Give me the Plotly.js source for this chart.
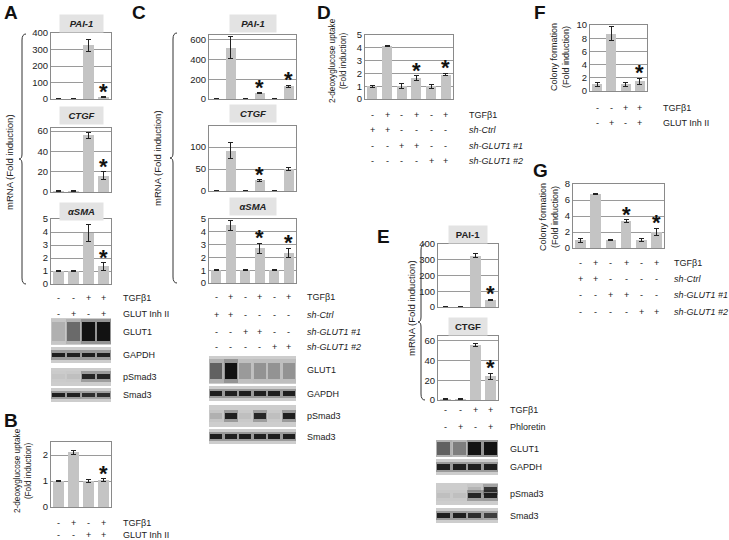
<!DOCTYPE html>
<html>
<head>
<meta charset="utf-8">
<script src="https://cdn.plot.ly/plotly-3.0.1.min.js"></script>
<style>
	html, body { margin: 0; padding: 0; background: #fff; }
	#plot { width: 729px; height: 540px; }
</style>
</head>
<body>
<div id="plot"></div>
<script>
const W = 729;
const H = 540;
const FONT = "Liberation Sans, Arial, sans-serif";

// ---- data ----
const lanes4 = [1, 2, 3, 4];
const lanes6 = [1, 2, 3, 4, 5, 6];

const aPai1 = [1, 1, 325, 12];
const aPai1Err = [0.5, 0.5, 35, 3];
const aCtgf = [1, 1, 56, 16];
const aCtgfErr = [0.3, 0.3, 3, 4];
const aSma = [1, 1, 3.9, 1.35];
const aSmaErr = [0.02, 0.02, 0.65, 0.3];

const bUptake = [1, 2.1, 1, 1.03];
const bUptakeErr = [0.02, 0.08, 0.04, 0.06];

const cPai1 = [1, 520, 1, 60, 1, 130];
const cPai1Err = [0, 110, 0, 5, 0, 10];
const cCtgf = [1, 92, 1, 24, 1, 50];
const cCtgfErr = [0, 18, 0, 2, 0, 4];
const cSma = [1, 4.5, 1, 2.7, 1, 2.35];
const cSmaErr = [0.02, 0.4, 0.02, 0.4, 0.02, 0.35];

const dUptake = [1, 4.15, 1, 1.65, 1, 1.9];
const dUptakeErr = [0.08, 0.05, 0.18, 0.18, 0.15, 0.1];

const ePai1 = [1, 1, 325, 45];
const ePai1Err = [0.5, 0.5, 12, 4];
const eCtgf = [1, 1, 56, 24];
const eCtgfErr = [0.3, 0.3, 1.5, 3];

const fColony = [1, 8.7, 1, 1.45];
const fColonyErr = [0.3, 1.0, 0.25, 0.5];

const gColony = [1, 6.75, 1, 3.4, 1, 2];
const gColonyErr = [0.25, 0.08, 0.06, 0.15, 0.15, 0.45];

// treatment rows
const rowTgfA = ["-", "-", "+", "+"];
const rowInhA = ["-", "+", "-", "+"];
const rowTgfB = ["-", "+", "-", "+"];
const rowInhB = ["-", "-", "+", "+"];
const rowTgf6 = ["-", "+", "-", "+", "-", "+"];
const rowCtrl6 = ["+", "+", "-", "-", "-", "-"];
const rowSh1 = ["-", "-", "+", "+", "-", "-"];
const rowSh2 = ["-", "-", "-", "-", "+", "+"];
const rowTgfE = ["-", "-", "+", "+"];
const rowPhlE = ["-", "+", "-", "+"];
const rowTgfF = ["-", "-", "+", "+"];
const rowInhF = ["-", "+", "-", "+"];

// western blot band intensities (0..1) per lane
const aGlut1 = [0.12, 0.45, 1, 1];
const aGapdh = [0.9, 0.9, 0.9, 0.9];
const aPsmad = [0.03, 0.05, 0.85, 0.85];
const aSmad = [0.9, 0.9, 0.8, 0.8];
const cGlut1 = [0.5, 1, 0.22, 0.25, 0.25, 0.25];
const cGapdh = [0.9, 0.9, 0.9, 0.9, 0.9, 0.9];
const cPsmad = [0.12, 0.9, 0.05, 0.85, 0.05, 0.9];
const cSmad = [0.9, 0.9, 0.9, 0.9, 0.9, 0.9];
const eGlut1 = [0.5, 0.35, 1, 1];
const eGapdh = [0.9, 0.9, 0.9, 0.9];
const ePsmad = [0.05, 0.05, 0.85, 0.9];
const ePsmadUpper = [0, 0, 0.1, 0.75];
const eSmad = [0.9, 0.9, 0.8, 0.7];

// ---- helpers ----
const px = (x) => x / W;
const py = (y) => 1 - y / H;

let traces = [];
let layout = {
	width: W,
	height: H,
	margin: { l: 0, r: 0, t: 0, b: 0 },
	paper_bgcolor: "#ffffff",
	plot_bgcolor: "rgba(0,0,0,0)",
	showlegend: false,
	font: { family: FONT, size: 9, color: "#222" },
	annotations: [],
	shapes: [],
	bargap: 0,
	barmode: "overlay",
};
let axisCount = 0;

function newAxes() {
	axisCount++;
	const n = axisCount === 1 ? "" : axisCount;
	return { n: n, xRef: "x" + n, yRef: "y" + n };
}

// paper-referenced text, centred on (x, y) pixels unless told otherwise
function text(x, y, str, opts = {}) {
	layout.annotations.push(
		Object.assign(
			{
				xref: "paper",
				yref: "paper",
				x: px(x),
				y: py(y),
				xanchor: "center",
				yanchor: "middle",
				text: str,
				showarrow: false,
				font: { family: FONT, size: 9, color: "#222" },
			},
			opts
		)
	);
}

function addBarPanel(p) {
	const ax = newAxes();
	const lanes = p.values.length === 6 ? lanes6 : lanes4;
	layout["xaxis" + ax.n] = {
		domain: [px(p.x0), px(p.x1)],
		anchor: ax.yRef,
		range: [0.5, lanes.length + 0.5],
		showticklabels: false,
		ticks: "",
		showgrid: false,
		zeroline: false,
		showline: true,
		mirror: true,
		linecolor: "#8a8a8a",
		linewidth: 1,
		fixedrange: true,
	};
	layout["yaxis" + ax.n] = {
		domain: [py(p.y1), py(p.y0)],
		anchor: ax.xRef,
		range: [0, p.max],
		dtick: p.dtick,
		tick0: 0,
		showgrid: true,
		gridcolor: "#9a9a9a",
		gridwidth: 1,
		zeroline: false,
		showline: true,
		mirror: true,
		linecolor: "#8a8a8a",
		ticks: "",
		tickfont: { family: FONT, size: 9.5, color: "#222" },
		fixedrange: true,
	};
	traces.push({
		type: "bar",
		x: lanes,
		y: p.values,
		xaxis: ax.xRef,
		yaxis: ax.yRef,
		width: 0.7,
		marker: { color: "#c4c4c4" },
		error_y: {
			type: "data",
			array: p.errors,
			visible: true,
			color: "#222",
			thickness: 1,
			width: 2.5,
		},
		hoverinfo: "skip",
	});
	(p.stars || []).forEach((i) => {
		layout.annotations.push({
			xref: ax.xRef,
			yref: ax.yRef,
			x: lanes[i],
			y: p.values[i] + p.errors[i],
			text: "<b>*</b>",
			showarrow: false,
			xanchor: "center",
			yanchor: "bottom",
			yshift: -9,
			font: { family: FONT, size: 22, color: "#111" },
		});
	});
	if (p.title) {
		text((p.x0 + p.x1) / 2, p.titleY, p.title, {
			bgcolor: "#e3e3e3",
			borderpad: 0,
			width: p.titleW,
			height: 17,
			font: { family: FONT, size: 9.5, color: "#222" },
		});
	}
	return ax;
}

function addRows(ax, rows, labelX) {
	rows.forEach((r) => {
		r.signs.forEach((s, i) => {
			layout.annotations.push({
				xref: ax.xRef,
				yref: "paper",
				x: i + 1,
				y: py(r.y),
				xanchor: "center",
				yanchor: "middle",
				text: s,
				showarrow: false,
				font: { family: FONT, size: 9, color: "#222" },
			});
		});
		text(labelX, r.y, r.label, { xanchor: "left" });
	});
}

function addBlot(b) {
	const ax = newAxes();
	const lanes = b.bands.length === 6 ? lanes6 : lanes4;
	layout["xaxis" + ax.n] = {
		domain: [px(b.x0), px(b.x1)],
		anchor: ax.yRef,
		range: [0.5, lanes.length + 0.5],
		visible: false,
		fixedrange: true,
	};
	layout["yaxis" + ax.n] = {
		domain: [py(b.y1), py(b.y0)],
		anchor: ax.xRef,
		range: [0, 1],
		visible: false,
		fixedrange: true,
	};
	layout.shapes.push({
		type: "rect",
		xref: ax.xRef + " domain",
		yref: ax.yRef + " domain",
		x0: 0,
		x1: 1,
		y0: 0,
		y1: 1,
		fillcolor: "#cdcdcd",
		line: { width: 0 },
		layer: "below",
	});
	const layers = [{ bands: b.bands, base: b.base, h: b.h }];
	if (b.upper) layers.push({ bands: b.upper, base: b.base + b.h + 0.05, h: b.h * 0.8 });
	layers.forEach((l) => {
		// soft halo, then the dense core of each band
		[
			{ grow: 0.14, w: 1.0, k: 0.3 },
			{ grow: 0, w: 0.86, k: 1 },
		].forEach((s) => {
			traces.push({
				type: "bar",
				x: lanes,
				y: lanes.map(() => l.h + 2 * s.grow),
				base: lanes.map(() => l.base - s.grow),
				xaxis: ax.xRef,
				yaxis: ax.yRef,
				width: s.w,
				marker: {
					color: l.bands.map((a) => `rgba(18,18,18,${a * s.k})`),
					line: { width: 0 },
				},
				hoverinfo: "skip",
			});
		});
	});
	text(b.labelX, (b.y0 + b.y1) / 2, b.label, { xanchor: "left" });
}

function addBrace(x, y0, y1) {
	const m = (y0 + y1) / 2;
	const P = (a, b) => `${px(a)},${py(b)}`;
	const path =
		`M${P(x + 4, y0)} Q${P(x, y0)} ${P(x, y0 + 6)} L${P(x, m - 5)} ` +
		`Q${P(x, m)} ${P(x - 3, m)} Q${P(x, m)} ${P(x, m + 5)} ` +
		`L${P(x, y1 - 6)} Q${P(x, y1)} ${P(x + 4, y1)}`;
	layout.shapes.push({
		type: "path",
		xref: "paper",
		yref: "paper",
		path: path,
		line: { color: "#333", width: 1 },
	});
}

function letter(x, y, s) {
	text(x, y, `<b>${s}</b>`, { font: { family: FONT, size: 19, color: "#111" } });
}

function ylabel(x, y, s, size = 9) {
	text(x, y, s, { textangle: -90, font: { family: FONT, size: size, color: "#222" } });
}

// ---- panel A ----
letter(11, 13, "A");
addBarPanel({ x0: 51, x1: 111, y0: 33, y1: 99, values: aPai1, errors: aPai1Err, max: 400, dtick: 100, stars: [3], title: "<b><i>PAI-1</i></b>", titleY: 23, titleW: 43 });
addBarPanel({ x0: 51, x1: 111, y0: 128, y1: 192, values: aCtgf, errors: aCtgfErr, max: 63, dtick: 20, stars: [3], title: "<b><i>CTGF</i></b>", titleY: 116, titleW: 43 });
const axA = addBarPanel({ x0: 51, x1: 111, y0: 219, y1: 284, values: aSma, errors: aSmaErr, max: 5, dtick: 1, stars: [3], title: "<b><i>αSMA</i></b>", titleY: 211, titleW: 43 });
ylabel(9, 162, "mRNA (Fold induction)", 9.5);
addBrace(22, 34, 284);
addRows(axA, [
	{ y: 298, signs: rowTgfA, label: "TGFβ1" },
	{ y: 314, signs: rowInhA, label: "GLUT Inh II" },
], 121);
addBlot({ x0: 51, x1: 111, y0: 318, y1: 345, bands: aGlut1, base: 0.16, h: 0.68, label: "GLUT1", labelX: 121 });
addBlot({ x0: 51, x1: 111, y0: 347, y1: 363, bands: aGapdh, base: 0.35, h: 0.3, label: "GAPDH", labelX: 121 });
addBlot({ x0: 51, x1: 111, y0: 368, y1: 386, bands: aPsmad, base: 0.38, h: 0.3, label: "pSmad3", labelX: 121 });
addBlot({ x0: 51, x1: 111, y0: 388, y1: 402, bands: aSmad, base: 0.35, h: 0.32, label: "Smad3", labelX: 121 });

// ---- panel B ----
letter(11, 420, "B");
const axB = addBarPanel({ x0: 51, x1: 111, y0: 442, y1: 507, values: bUptake, errors: bUptakeErr, max: 2.5, dtick: 1, stars: [3] });
ylabel(23, 470, "2-deoxyglucose uptake<br>(Fold induction)", 8.2);
addRows(axB, [
	{ y: 523, signs: rowTgfB, label: "TGFβ1" },
	{ y: 535, signs: rowInhB, label: "GLUT Inh II" },
], 121);

// ---- panel C ----
letter(139, 13, "C");
addBarPanel({ x0: 209, x1: 296, y0: 35, y1: 99, values: cPai1, errors: cPai1Err, max: 650, dtick: 200, stars: [3, 5], title: "<b><i>PAI-1</i></b>", titleY: 23, titleW: 46 });
addBarPanel({ x0: 209, x1: 296, y0: 126, y1: 191, values: cCtgf, errors: cCtgfErr, max: 148, dtick: 50, stars: [3], title: "<b><i>CTGF</i></b>", titleY: 113, titleW: 46 });
const axC = addBarPanel({ x0: 209, x1: 296, y0: 219, y1: 283, values: cSma, errors: cSmaErr, max: 5, dtick: 1, stars: [3, 5], title: "<b><i>αSMA</i></b>", titleY: 207, titleW: 46 });
ylabel(158, 158, "mRNA (Fold induction)", 9.5);
addBrace(173, 33, 283);
addRows(axC, [
	{ y: 297, signs: rowTgf6, label: "TGFβ1" },
	{ y: 315, signs: rowCtrl6, label: "<i>sh-Ctrl</i>" },
	{ y: 332, signs: rowSh1, label: "<i>sh-GLUT1 #1</i>" },
	{ y: 347, signs: rowSh2, label: "<i>sh-GLUT1 #2</i>" },
], 305);
addBlot({ x0: 209, x1: 296, y0: 356, y1: 384, bands: cGlut1, base: 0.18, h: 0.56, label: "GLUT1", labelX: 305 });
addBlot({ x0: 209, x1: 296, y0: 386, y1: 401, bands: cGapdh, base: 0.35, h: 0.3, label: "GAPDH", labelX: 305 });
addBlot({ x0: 209, x1: 296, y0: 405, y1: 427, bands: cPsmad, base: 0.35, h: 0.3, label: "pSmad3", labelX: 305 });
addBlot({ x0: 209, x1: 296, y0: 429, y1: 444, bands: cSmad, base: 0.35, h: 0.32, label: "Smad3", labelX: 305 });

// ---- panel D ----
letter(324, 13, "D");
const axD = addBarPanel({ x0: 365, x1: 453, y0: 35, y1: 99, values: dUptake, errors: dUptakeErr, max: 5, dtick: 1, stars: [3, 5] });
ylabel(338, 61, "2-deoxyglucose uptake<br>(Fold induction)", 8.2);
addRows(axD, [
	{ y: 115, signs: rowTgf6, label: "TGFβ1" },
	{ y: 130, signs: rowCtrl6, label: "<i>sh-Ctrl</i>" },
	{ y: 146, signs: rowSh1, label: "<i>sh-GLUT1 #1</i>" },
	{ y: 161, signs: rowSh2, label: "<i>sh-GLUT1 #2</i>" },
], 467);

// ---- panel E ----
letter(383, 236, "E");
addBarPanel({ x0: 438, x1: 498, y0: 244, y1: 307, values: ePai1, errors: ePai1Err, max: 400, dtick: 100, stars: [3], title: "<b>PAI-1</b>", titleY: 235, titleW: 38 });
const axE = addBarPanel({ x0: 438, x1: 498, y0: 336, y1: 400, values: eCtgf, errors: eCtgfErr, max: 65, dtick: 20, stars: [3], title: "<b>CTGF</b>", titleY: 326, titleW: 38 });
ylabel(411, 308, "mRNA (Fold induction)", 9.5);
addBrace(421, 244, 400);
addRows(axE, [
	{ y: 410, signs: rowTgfE, label: "TGFβ1" },
	{ y: 427, signs: rowPhlE, label: "Phloretin" },
], 508);
addBlot({ x0: 436, x1: 498, y0: 440, y1: 457, bands: eGlut1, base: 0.14, h: 0.72, label: "GLUT1", labelX: 508 });
addBlot({ x0: 436, x1: 498, y0: 459, y1: 475, bands: eGapdh, base: 0.33, h: 0.34, label: "GAPDH", labelX: 508 });
addBlot({ x0: 436, x1: 498, y0: 483, y1: 505, bands: ePsmad, upper: ePsmadUpper, base: 0.3, h: 0.26, label: "pSmad3", labelX: 508 });
addBlot({ x0: 436, x1: 498, y0: 508, y1: 523, bands: eSmad, base: 0.33, h: 0.34, label: "Smad3", labelX: 508 });

// ---- panel F ----
letter(540, 13, "F");
const axF = addBarPanel({ x0: 590, x1: 647, y0: 25, y1: 91, values: fColony, errors: fColonyErr, max: 10, dtick: 2, stars: [3] });
ylabel(560, 57, "Colony formation<br>(Fold induction)");
addRows(axF, [
	{ y: 108, signs: rowTgfF, label: "TGFβ1" },
	{ y: 123, signs: rowInhF, label: "GLUT Inh II" },
], 661);

// ---- panel G ----
letter(540, 170, "G");
const axG = addBarPanel({ x0: 573, x1: 664, y0: 184, y1: 248, values: gColony, errors: gColonyErr, max: 8, dtick: 2, stars: [3, 5] });
ylabel(549, 217, "Colony formation<br>(Fold induction)");
addRows(axG, [
	{ y: 263, signs: rowTgf6, label: "TGFβ1" },
	{ y: 279, signs: rowCtrl6, label: "<i>sh-Ctrl</i>" },
	{ y: 295, signs: rowSh1, label: "<i>sh-GLUT1 #1</i>" },
	{ y: 312, signs: rowSh2, label: "<i>sh-GLUT1 #2</i>" },
], 672);

Plotly.newPlot("plot", traces, layout, { displayModeBar: false, staticPlot: true });
</script>
</body>
</html>
